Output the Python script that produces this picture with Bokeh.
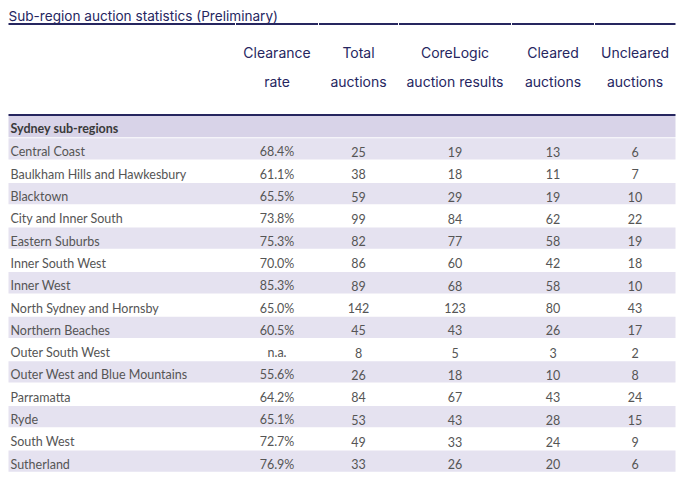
from bokeh.plotting import figure
from bokeh.models import ColumnDataSource, Range1d
from bokeh.core.properties import value
from bokeh.embed import file_html
from bokeh.resources import INLINE

title = "Sub-region auction statistics (Preliminary)"
group_label = "Sydney sub-regions"
headers = [("Clearance", "rate"), ("Total", "auctions"), ("CoreLogic", "auction results"),
           ("Cleared", "auctions"), ("Uncleared", "auctions")]
regions = ["Central Coast", "Baulkham Hills and Hawkesbury", "Blacktown", "City and Inner South",
           "Eastern Suburbs", "Inner South West", "Inner West", "North Sydney and Hornsby",
           "Northern Beaches", "Outer South West", "Outer West and Blue Mountains", "Parramatta",
           "Ryde", "South West", "Sutherland"]
clearance = ["68.4%", "61.1%", "65.5%", "73.8%", "75.3%", "70.0%", "85.3%", "65.0%", "60.5%",
             "n.a.", "55.6%", "64.2%", "65.1%", "72.7%", "76.9%"]
total = [25, 38, 59, 99, 82, 86, 89, 142, 45, 8, 26, 84, 53, 49, 33]
corelogic = [19, 18, 29, 84, 77, 60, 68, 123, 43, 5, 18, 67, 43, 33, 26]
cleared = [13, 11, 19, 62, 58, 42, 58, 80, 26, 3, 10, 43, 28, 24, 20]
uncleared = [6, 7, 10, 22, 19, 18, 10, 43, 17, 2, 8, 24, 15, 9, 6]

# layout (page pixel coordinates)
W, H = 679, 480
X0, X1 = 8, 675
bounds = [8, 235, 318, 398, 511, 594, 675]
centers = [(bounds[i] + bounds[i + 1]) / 2 for i in range(1, 6)]
NAVY = "#26265f"
TEXT = "#555555"
LAV = "#e5e2f0"
LAV_DARK = "#d8d3e8"
table_top = 115.5
step = 22.3
text_off = 13.6

p = figure(width=W, height=H, output_backend="svg", toolbar_location=None,
           x_range=Range1d(0, W), y_range=Range1d(H, 0), min_border=0,
           outline_line_color=None)
p.axis.visible = False
p.grid.visible = False
p.background_fill_color = "white"
p.border_fill_color = "white"

# title
p.text(x=[8], y=[15], text=[title], text_font=value("Inter"), text_font_size="13.6px",
       text_color=NAVY, text_baseline="middle", text_align="left")
# title underline segments (one per column)
x0s = [bounds[i] + (0.5 if i > 0 else 0) for i in range(6)]
x1s = [bounds[i + 1] - (0.5 if i < 5 else 0) for i in range(6)]
p.segment(x0=x0s, y0=[23.5] * 6, x1=x1s, y1=[23.5] * 6, line_color=NAVY, line_width=1.8)

# headers
hx = centers * 2
hy = [52] * 5 + [81] * 5
ht = [h[0] for h in headers] + [h[1] for h in headers]
p.text(x=hx, y=hy, text=ht, text_font=value("Inter"), text_font_size="14px",
       text_color=NAVY, text_align="center", text_baseline="middle")

# rows
n = len(regions)
tops = [table_top + step * (i + 1) for i in range(n)]
bots = [t + step - 1 for t in tops]
fills = [LAV if i % 2 == 0 else "white" for i in range(n)]
src = ColumnDataSource(dict(region=regions, clearance=clearance,
                            total=[str(v) for v in total], corelogic=[str(v) for v in corelogic],
                            cleared=[str(v) for v in cleared], uncleared=[str(v) for v in uncleared],
                            top=tops, bottom=bots, fill=fills,
                            ty=[t + text_off for t in tops]))
# group row
p.quad(left=[X0], right=[X1], top=[table_top], bottom=[table_top + step - 1],
       fill_color=LAV_DARK, line_color=None)
p.quad(left=X0, right=X1, top="top", bottom="bottom", fill_color="fill", line_color=None, source=src)

# header bottom line
p.segment(x0=[X0], y0=[114.5], x1=[X1], y1=[114.5], line_color=NAVY, line_width=2.2)

p.text(x=[10], y=[table_top + text_off - 1], text=[group_label], text_font=value("Lato"),
       text_font_size="12.5px", text_font_style="bold", text_color="#3a3a3a",
       text_baseline="middle")

font_kw = dict(text_font=value("Lato"), text_font_size="12.5px", text_color=TEXT,
               text_baseline="middle", source=src)
p.text(x=10, y="ty", text="region", text_align="left", **font_kw)
for cx, col in zip(centers, ["clearance", "total", "corelogic", "cleared", "uncleared"]):
    p.text(x=cx, y="ty", text=col, text_align="center", **font_kw)

open("out.html", "w").write(file_html(p, INLINE))
